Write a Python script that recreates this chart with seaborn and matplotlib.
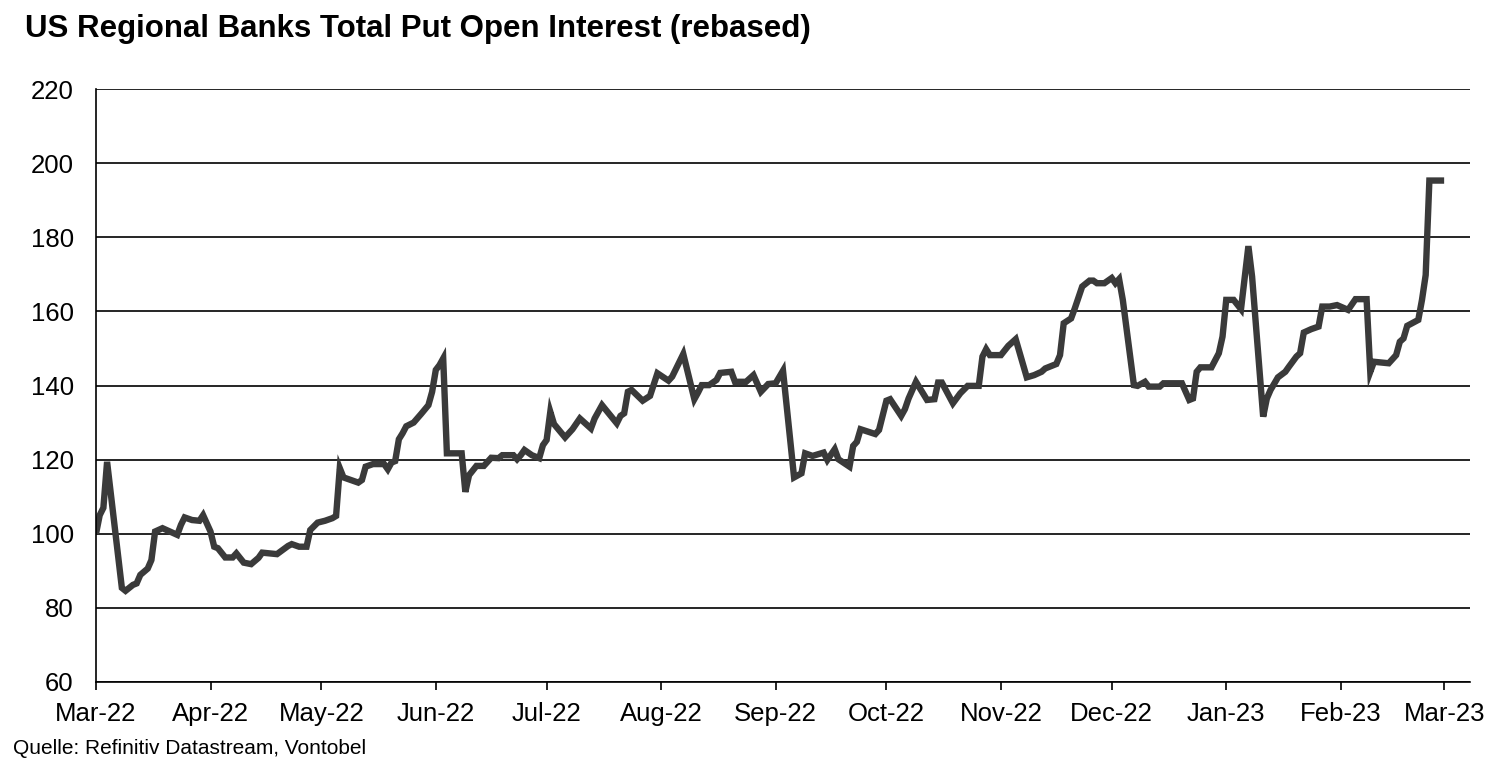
import matplotlib
matplotlib.use("Agg")
import matplotlib.pyplot as plt
import matplotlib.dates as mdates
import seaborn as sns
import pandas as pd

title = "US Regional Banks Total Put Open Interest (rebased)"
source = "Quelle: Refinitiv Datastream, Vontobel"

dates = [
    "2022-03-01", "2022-03-02", "2022-03-03", "2022-03-04", "2022-03-08", "2022-03-09",
    "2022-03-11", "2022-03-12", "2022-03-13", "2022-03-15", "2022-03-16", "2022-03-17",
    "2022-03-19", "2022-03-21", "2022-03-23", "2022-03-24", "2022-03-25", "2022-03-27",
    "2022-03-29", "2022-03-30", "2022-04-01", "2022-04-02", "2022-04-03", "2022-04-05",
    "2022-04-07", "2022-04-08", "2022-04-10", "2022-04-12", "2022-04-14", "2022-04-15",
    "2022-04-19", "2022-04-22", "2022-04-23", "2022-04-25", "2022-04-27", "2022-04-28",
    "2022-04-30", "2022-05-02", "2022-05-04", "2022-05-05", "2022-05-06", "2022-05-07",
    "2022-05-11", "2022-05-12", "2022-05-13", "2022-05-15", "2022-05-18", "2022-05-19",
    "2022-05-20", "2022-05-21", "2022-05-22", "2022-05-23", "2022-05-24", "2022-05-26",
    "2022-05-28", "2022-05-30", "2022-05-31", "2022-06-01", "2022-06-02", "2022-06-03",
    "2022-06-04", "2022-06-08", "2022-06-09", "2022-06-10", "2022-06-12", "2022-06-14",
    "2022-06-16", "2022-06-18", "2022-06-19", "2022-06-22", "2022-06-23", "2022-06-24",
    "2022-06-25", "2022-06-27", "2022-06-29", "2022-06-30", "2022-07-01", "2022-07-02",
    "2022-07-03", "2022-07-06", "2022-07-07", "2022-07-08", "2022-07-10", "2022-07-13",
    "2022-07-14", "2022-07-16", "2022-07-20", "2022-07-21", "2022-07-22", "2022-07-23",
    "2022-07-24", "2022-07-27", "2022-07-29", "2022-07-31", "2022-08-03", "2022-08-04",
    "2022-08-07", "2022-08-10", "2022-08-11", "2022-08-12", "2022-08-14", "2022-08-16",
    "2022-08-17", "2022-08-20", "2022-08-21", "2022-08-24", "2022-08-26", "2022-08-28",
    "2022-08-30", "2022-09-01", "2022-09-03", "2022-09-06", "2022-09-08", "2022-09-09",
    "2022-09-11", "2022-09-14", "2022-09-15", "2022-09-17", "2022-09-18", "2022-09-21",
    "2022-09-22", "2022-09-23", "2022-09-24", "2022-09-28", "2022-09-29", "2022-10-01",
    "2022-10-02", "2022-10-05", "2022-10-06", "2022-10-07", "2022-10-09", "2022-10-12",
    "2022-10-14", "2022-10-15", "2022-10-16", "2022-10-19", "2022-10-21", "2022-10-23",
    "2022-10-26", "2022-10-27", "2022-10-28", "2022-10-29", "2022-11-01", "2022-11-03",
    "2022-11-05", "2022-11-08", "2022-11-10", "2022-11-12", "2022-11-13", "2022-11-16",
    "2022-11-17", "2022-11-18", "2022-11-20", "2022-11-21", "2022-11-23", "2022-11-25",
    "2022-11-26", "2022-11-27", "2022-11-29", "2022-12-01", "2022-12-02", "2022-12-03",
    "2022-12-04", "2022-12-07", "2022-12-08", "2022-12-10", "2022-12-11", "2022-12-14",
    "2022-12-15", "2022-12-20", "2022-12-22", "2022-12-23", "2022-12-24", "2022-12-25",
    "2022-12-28", "2022-12-30", "2022-12-31", "2023-01-01", "2023-01-03", "2023-01-05",
    "2023-01-07", "2023-01-08", "2023-01-11", "2023-01-12", "2023-01-13", "2023-01-15",
    "2023-01-17", "2023-01-18", "2023-01-20", "2023-01-21", "2023-01-22", "2023-01-24",
    "2023-01-26", "2023-01-27", "2023-01-29", "2023-01-31", "2023-02-03", "2023-02-05",
    "2023-02-08", "2023-02-09", "2023-02-10", "2023-02-14", "2023-02-16", "2023-02-17",
    "2023-02-18", "2023-02-19", "2023-02-22", "2023-02-23", "2023-02-24", "2023-02-25",
    "2023-03-01",
]

put_oi = [
    100, 105, 107, 119.4, 85.4, 84.6,
    86.2, 86.6, 88.9, 90.6, 92.9, 100.6,
    101.5, 100.6, 99.7, 102.4, 104.4, 103.7,
    103.5, 105, 100.6, 96.5, 96.1, 93.6,
    93.6, 94.7, 92.2, 91.8, 93.5, 94.9,
    94.5, 96.7, 97.2, 96.5, 96.5, 101,
    103, 103.5, 104.2, 104.8, 117.7, 115.2,
    113.8, 114.5, 118.1, 118.8, 118.8, 117.4,
    119.2, 119.6, 125.5, 127.1, 129, 130,
    132.3, 134.7, 138.3, 144.2, 145.5, 147.3,
    121.7, 121.7, 111.3, 115.8, 118.3, 118.3,
    120.5, 120.4, 121.2, 121.2, 120.1, 121.2,
    122.6, 121.2, 120.4, 123.9, 125.3, 132.9,
    129.6, 126, 127.1, 128.2, 131.1, 128.4,
    131.1, 134.7, 129.8, 131.8, 132.5, 138.3,
    138.8, 135.9, 137.2, 143.3, 141.3, 142.4,
    148.5, 136.3, 138.1, 140.1, 140.1, 141.5,
    143.4, 143.7, 141, 141, 142.8, 138.3,
    140.4, 140.6, 144, 115.2, 116.3, 121.7,
    121, 121.9, 119.9, 122.8, 120.1, 118.1,
    123.7, 124.8, 128.2, 126.9, 128, 135.9,
    136.3, 131.8, 133.6, 136.5, 141, 136.1,
    136.3, 140.8, 140.8, 135.2, 137.9, 139.9,
    139.9, 147.8, 149.8, 148.2, 148.2, 150.7,
    152.5, 142.2, 142.8, 143.7, 144.6, 145.8,
    148.2, 156.8, 158.1, 160.8, 166.7, 168.3,
    168.3, 167.6, 167.6, 169, 167.6, 168.7,
    163.1, 140.1, 139.9, 141, 139.7, 139.7,
    140.6, 140.6, 136.1, 136.5, 143.7, 144.9,
    144.9, 148.7, 153.2, 163.1, 163.1, 160.6,
    177.6, 169.4, 131.6, 136.5, 138.8, 142.2,
    143.7, 145.1, 147.8, 148.7, 154.3, 155.2,
    155.9, 161.3, 161.3, 161.7, 160.4, 163.3,
    163.3, 143.7, 146.4, 146, 148.2, 151.8,
    152.7, 156.1, 157.7, 163.1, 169.8, 195.3,
    195.3,
]

y_ticks = [60, 80, 100, 120, 140, 160, 180, 200, 220]

df = pd.DataFrame({"date": pd.to_datetime(dates), "value": put_oi})

sns.set_theme(style="white")
plt.rcParams["font.family"] = ["Liberation Sans", "DejaVu Sans"]

fig = plt.figure(figsize=(15, 7.7), dpi=100)
ax = fig.add_axes([0.064, 0.1143, 0.916, 0.7701])

sns.lineplot(data=df, x="date", y="value", ax=ax, color="#3a3a3a",
             linewidth=4.6, solid_joinstyle="miter", solid_capstyle="butt")

ax.set_ylim(60, 220)
ax.set_yticks(y_ticks)
ax.set_xlim(pd.Timestamp("2022-03-01"), pd.Timestamp("2023-03-08"))
ax.xaxis.set_major_locator(mdates.MonthLocator())
ax.xaxis.set_major_formatter(mdates.DateFormatter("%b-%y"))

ax.grid(axis="y", color="black", linewidth=1.2)
ax.grid(axis="x", visible=False)
ax.set_axisbelow(True)
for s in ["top", "right"]:
    ax.spines[s].set_visible(False)
for s in ["left", "bottom"]:
    ax.spines[s].set_visible(True)
    ax.spines[s].set_color("black")
    ax.spines[s].set_linewidth(1.2)

ax.tick_params(axis="y", length=0, pad=16, labelsize=18.5, colors="black")
ax.tick_params(axis="x", direction="out", length=6, width=1.2, pad=8.5,
               labelsize=18.5, colors="black", bottom=True)
ax.set_xlabel("")
ax.set_ylabel("")

fig.text(0.0167, 0.9523, title, fontsize=22.5, fontweight="bold",
         ha="left", va="baseline", color="black")
fig.text(0.009, 0.021, source, fontsize=15, ha="left", va="baseline",
         color="black")

fig.savefig("out.png", dpi=100)
